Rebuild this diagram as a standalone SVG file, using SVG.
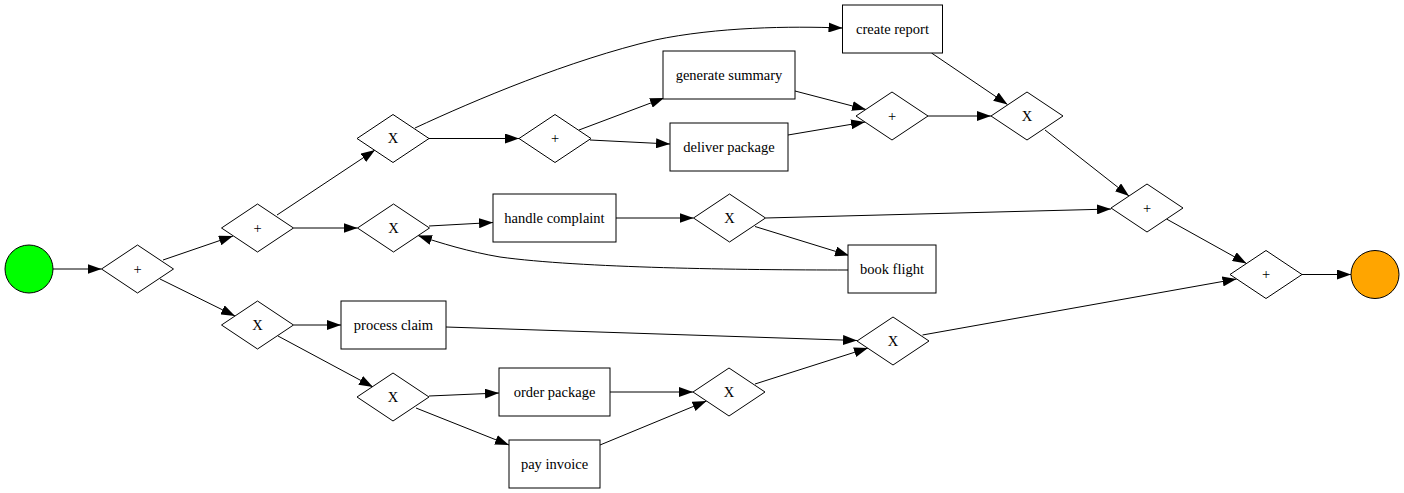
<svg xmlns="http://www.w3.org/2000/svg" width="1404" height="493" viewBox="0 0 1404 493">
<style>
.n{fill:#fff;stroke:#000;stroke-width:1}
.t{font-family:"Liberation Serif","Times New Roman",serif;font-size:14.5px;text-anchor:middle;fill:#000}
.e{fill:none;stroke:#000;stroke-width:1;marker-end:url(#arr)}
</style>
<defs>
<marker id="arr" markerWidth="14" markerHeight="10" refX="14" refY="5" orient="auto" markerUnits="userSpaceOnUse"><path d="M0,0 L14,5 L0,10 z" fill="#000"/></marker>
</defs>
<rect width="1404" height="493" fill="#fff"/>
<g id="edges">
<path class="e" d="M53,269 L101.5,269"/>
<path class="e" d="M163,260 L233,236"/>
<path class="e" d="M160,279 L235,316"/>
<path class="e" d="M277,215 L375,150"/>
<path class="e" d="M293.5,228 L357.5,228"/>
<path class="e" d="M415,128 C475,100 570,60 655,40 C717,27 790,26 842.5,28"/>
<path class="e" d="M429,138.5 L519,138.5"/>
<path class="e" d="M579,130 L664,98"/>
<path class="e" d="M590,140 L670,144"/>
<path class="e" d="M795,91 L866,109.5"/>
<path class="e" d="M788,135 L865,122"/>
<path class="e" d="M928,116 L991,116"/>
<path class="e" d="M931.5,53 L1007.5,104.5"/>
<path class="e" d="M1045,130 L1129,196"/>
<path class="e" d="M429,226 L493,222.5"/>
<path class="e" d="M616,218 L693.5,218"/>
<path class="e" d="M765.5,218 L1111,209"/>
<path class="e" d="M755,226.5 L849,255.5"/>
<path class="e" d="M848,270 C740,270 580,268 500,257 C470,252 440,243 418,235.5"/>
<path class="e" d="M1166.5,219 L1246.5,263.5"/>
<path class="e" d="M293.5,325 L341,325"/>
<path class="e" d="M278,336 L373,387"/>
<path class="e" d="M446,327 L857,340.5"/>
<path class="e" d="M429,396 L499,393"/>
<path class="e" d="M416,408 L509,445"/>
<path class="e" d="M610,392 L693,392"/>
<path class="e" d="M600,445 L706.5,401"/>
<path class="e" d="M755,384 L868,348"/>
<path class="e" d="M922.5,335 L1236.5,279"/>
<path class="e" d="M1302,274.5 L1351,274.5"/>
</g>
<g id="start"><circle cx="29" cy="269" r="24" fill="#00ff00" stroke="#000"/></g>
<g id="g1"><path class="n" d="M137.5,245 L173.5,269 L137.5,293 L101.5,269 z"/><text class="t" x="137.5" y="273.5">+</text></g>
<g id="g2"><path class="n" d="M257.5,204 L293.5,228 L257.5,252 L221.5,228 z"/><text class="t" x="257.5" y="232.5">+</text></g>
<g id="g3"><path class="n" d="M257.5,301 L293.5,325 L257.5,349 L221.5,325 z"/><text class="t" x="257.5" y="329.5">X</text></g>
<g id="xTop"><path class="n" d="M393,114.5 L429,138.5 L393,162.5 L357,138.5 z"/><text class="t" x="393" y="143">X</text></g>
<g id="xLoop"><path class="n" d="M393.5,204 L429.5,228 L393.5,252 L357.5,228 z"/><text class="t" x="393.5" y="232.5">X</text></g>
<g id="xLL"><path class="n" d="M393,373 L429,397 L393,421 L357,397 z"/><text class="t" x="393" y="401.5">X</text></g>
<g id="pPar"><path class="n" d="M555,114.5 L591,138.5 L555,162.5 L519,138.5 z"/><text class="t" x="555" y="143">+</text></g>
<g id="genSummary"><rect class="n" x="663" y="51" width="132" height="48"/><text class="t" x="729" y="79.5">generate summary</text></g>
<g id="deliverPackage"><rect class="n" x="670" y="123" width="118" height="48"/><text class="t" x="729" y="151.5">deliver package</text></g>
<g id="createReport"><rect class="n" x="842.5" y="5" width="100" height="48"/><text class="t" x="892.5" y="33.5">create report</text></g>
<g id="handleComplaint"><rect class="n" x="493" y="194" width="123" height="48"/><text class="t" x="554.5" y="222.5">handle complaint</text></g>
<g id="processClaim"><rect class="n" x="341" y="301" width="105" height="48"/><text class="t" x="393.5" y="329.5">process claim</text></g>
<g id="orderPackage"><rect class="n" x="499" y="368" width="111" height="48"/><text class="t" x="554.5" y="396.5">order package</text></g>
<g id="payInvoice"><rect class="n" x="509" y="440" width="91" height="48"/><text class="t" x="554.5" y="468.5">pay invoice</text></g>
<g id="xHC"><path class="n" d="M729.5,194 L765.5,218 L729.5,242 L693.5,218 z"/><text class="t" x="729.5" y="222.5">X</text></g>
<g id="bookFlight"><rect class="n" x="848" y="245" width="88" height="48"/><text class="t" x="892" y="273.5">book flight</text></g>
<g id="xOP"><path class="n" d="M729,368 L765,392 L729,416 L693,392 z"/><text class="t" x="729" y="396.5">X</text></g>
<g id="xPC"><path class="n" d="M893,317 L929,341 L893,365 L857,341 z"/><text class="t" x="893" y="345.5">X</text></g>
<g id="pJoin"><path class="n" d="M892,92 L928,116 L892,140 L856,116 z"/><text class="t" x="892" y="120.5">+</text></g>
<g id="xCR"><path class="n" d="M1027,92 L1063,116 L1027,140 L991,116 z"/><text class="t" x="1027" y="120.5">X</text></g>
<g id="pB"><path class="n" d="M1147,184 L1183,208 L1147,232 L1111,208 z"/><text class="t" x="1147" y="212.5">+</text></g>
<g id="pFinal"><path class="n" d="M1266,250.5 L1302,274.5 L1266,298.5 L1230,274.5 z"/><text class="t" x="1266" y="279">+</text></g>
<g id="end"><circle cx="1375" cy="274.5" r="24" fill="#ffa500" stroke="#000"/></g>
</svg>
